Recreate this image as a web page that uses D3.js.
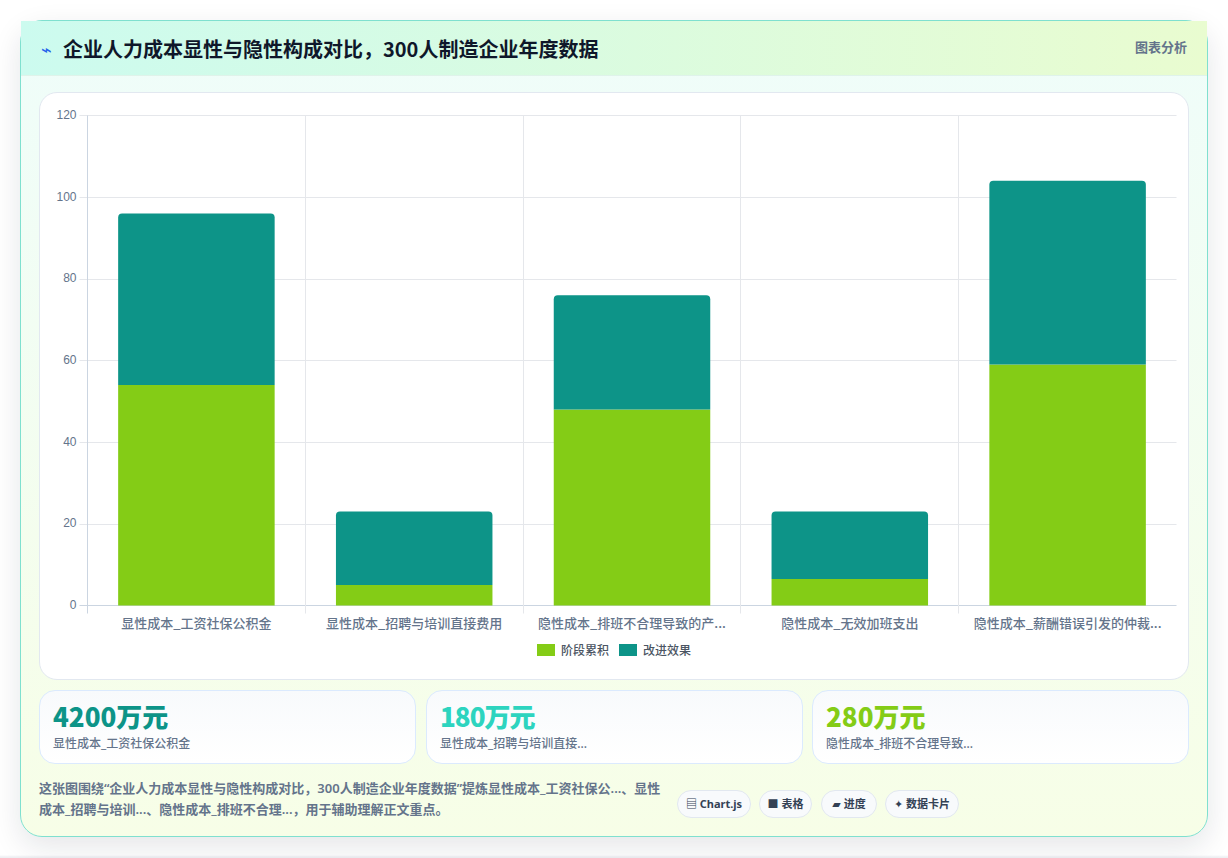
<!DOCTYPE html>
<html lang="zh">
<head>
<meta charset="utf-8">
<title>企业人力成本显性与隐性构成对比</title>
<script src="https://cdn.jsdelivr.net/npm/d3@7/dist/d3.min.js"></script>
<style>
*{box-sizing:border-box;margin:0;padding:0}
html,body{width:1228px;height:858px;overflow:hidden;background:#fff;font-family:"Noto Sans","Noto Sans CJK SC","DejaVu Sans",sans-serif}
body{background:linear-gradient(180deg,#fff 0,#fff 855px,#eef0f3 857px)}
.card{position:absolute;left:20px;top:20px;width:1188px;height:817px;border:1px solid #7fe0cf;border-radius:22px;
  background:linear-gradient(180deg,#effdfa 0%,#f7fee7 100%);box-shadow:0 10px 30px rgba(15,23,42,.11)}
.head{position:absolute;left:0;top:0;right:0;height:55px;background:linear-gradient(90deg,#ccfbef 0%,#e9fcd0 100%);border-bottom:1px solid #dff3ea}
.head .icon{position:absolute;left:20px;top:17px;font-size:18px;line-height:22px;color:#2563eb}
.head h1{position:absolute;left:42px;top:13px;font-size:20px;line-height:30px;font-weight:700;color:#0f172a;white-space:nowrap;font-family:"Noto Sans CJK SC",sans-serif}
.head .tag{position:absolute;right:20px;top:16px;font-size:13px;line-height:20px;font-weight:700;color:#64748b}
.panel{position:absolute;left:18px;top:71px;width:1150px;height:588px;background:#fff;border:1px solid #e2e8f0;border-radius:18px}
svg{position:absolute;left:0;top:0}
.stat{position:absolute;top:669px;height:74px;border:1px solid #dbeafe;border-radius:16px;background:linear-gradient(180deg,#f8fafc,#fff)}
.stat b{position:absolute;left:13px;top:8px;font-size:26px;line-height:34px;font-weight:800;white-space:nowrap;font-family:"Noto Sans CJK SC",sans-serif}
.stat span{position:absolute;left:13px;top:45px;font-size:12px;line-height:16px;font-weight:500;color:#64748b;white-space:nowrap}
.note{position:absolute;left:18px;top:757px;width:630px;font-size:13px;line-height:20.8px;font-weight:600;color:#64748b}
.chip{position:absolute;top:769px;height:28px;border:1px solid #e2e8f0;border-radius:14px;background:#f8fafc;font-size:11px;line-height:26px;font-weight:700;color:#334155;text-align:center;white-space:nowrap}
</style>
</head>
<body>
<div class="card" id="card">
  <div class="head">
    <span class="icon">⌁</span>
    <h1 id="title"></h1>
    <span class="tag">图表分析</span>
  </div>
  <div class="panel"></div>
  <svg id="chart" width="1186" height="660"></svg>
</div>
<script>
const chartTitle = "企业人力成本显性与隐性构成对比，300人制造企业年度数据";
const categories = ["显性成本_工资社保公积金","显性成本_招聘与培训直接费用","隐性成本_排班不合理导致的产...","隐性成本_无效加班支出","隐性成本_薪酬错误引发的仲裁..."];
const seriesNames = ["阶段累积","改进效果"];
const stageValues = [54,5,48,6.5,59];
const effectValues = [42,18,28,16.5,45];
const yTicks = [0,20,40,60,80,100,120];
const statValues = ["4200万元","180万元","280万元"];
const statLabels = ["显性成本_工资社保公积金","显性成本_招聘与培训直接...","隐性成本_排班不合理导致..."];
const statColors = ["#0d9488","#2dd4bf","#84cc16"];
const noteText = "这张图围绕“企业人力成本显性与隐性构成对比，300人制造企业年度数据”提炼显性成本_工资社保公...、显性成本_招聘与培训...、隐性成本_排班不合理...，用于辅助理解正文重点。";
const chipLabels = ["▤ Chart.js","■ 表格","▰ 进度","✦ 数据卡片"];
const seriesColors = ["#84cc16","#0d9488"];

const card = d3.select("#card");
d3.select("#title").text(chartTitle);

// Plot frame, in the card's inner coordinates.
const plot = {left:66.5, right:1155.5, top:94.5, bottom:584.5};
const svg = d3.select("#chart");
const x = d3.scaleBand().domain(categories).range([plot.left, plot.right]);
const y = d3.scaleLinear().domain([0,120]).range([plot.bottom, plot.top]);
const barWidth = 156.5;
const gridColor = "#e5e7eb", axisColor = "#cbd5e1", tickText = "#64748b";
const crisp = v => Math.round(v-.01)+.5;

// Gridlines and tick marks, extended past the plot as short ticks
const grid = svg.append("g");
grid.selectAll("line.h").data(yTicks).join("line").attr("class","h")
  .attr("x1",plot.left-8).attr("x2",plot.right)
  .attr("y1",d=>crisp(y(d))).attr("y2",d=>crisp(y(d)))
  .attr("stroke",d=>d===0?axisColor:gridColor);
const splits = d3.range(categories.length).map(i=>plot.left+i*x.bandwidth());
grid.selectAll("line.v").data(splits).join("line").attr("class","v")
  .attr("x1",d=>Math.floor(d)+.5).attr("x2",d=>Math.floor(d)+.5)
  .attr("y1",plot.top).attr("y2",plot.bottom+8)
  .attr("stroke",(d,i)=>i===0?axisColor:gridColor);

// Value axis labels
const yAxis = d3.axisLeft(y).tickValues(yTicks).tickSize(0).tickPadding(11);
const gy = svg.append("g").attr("transform",`translate(${plot.left},-1)`).call(yAxis);
gy.select(".domain").remove();
gy.selectAll("text").attr("fill",tickText).attr("font-size",12).attr("font-weight",500)
  .attr("font-family","'Liberation Sans',sans-serif");

// Category labels
const xAxis = d3.axisBottom(x).tickSize(0).tickPadding(13);
const gx = svg.append("g").attr("transform",`translate(0,${plot.bottom})`).call(xAxis);
gx.select(".domain").remove();
gx.selectAll("text").attr("fill",tickText).attr("font-size",13).attr("font-weight",500)
  .attr("font-family","'Noto Sans CJK SC',sans-serif");

// Stacked bars: the upper segment carries the rounded top corners
const stack = d3.stack().keys([0,1]).value((d,k)=>d[k])(categories.map((c,i)=>[stageValues[i],effectValues[i]]));
const barPath = (cx,y0,y1,r)=>{
  const p = d3.path(), l = cx-barWidth/2, w = barWidth;
  p.moveTo(l,y0); p.lineTo(l,y1+r);
  p.arcTo(l,y1,l+r,y1,r); p.lineTo(l+w-r,y1);
  p.arcTo(l+w,y1,l+w,y1+r,r); p.lineTo(l+w,y0); p.closePath();
  return p.toString();
};
svg.append("g").selectAll("g").data(stack).join("g").attr("fill",(d,i)=>seriesColors[i])
  .selectAll("path").data((d,k)=>d.map((v,i)=>({v,i,k}))).join("path")
  .attr("d",d=>barPath(x(categories[d.i])+x.bandwidth()/2,y(d.v[0]),y(d.v[1]),d.k===1?4:0));

// Legend, centred under the plot
const legendItems = [{n:seriesNames[0],c:seriesColors[0],x:516},{n:seriesNames[1],c:seriesColors[1],x:598}];
const lg = svg.append("g").selectAll("g").data(legendItems).join("g").attr("transform",d=>`translate(${d.x},623)`);
lg.append("rect").attr("width",18).attr("height",12).attr("fill",d=>d.c);
lg.append("text").attr("x",24).attr("y",10.5).attr("font-size",12).attr("font-weight",500).attr("fill","#4b5563")
  .attr("font-family","'Noto Sans CJK SC',sans-serif").text(d=>d.n);

// Summary cards; the narrow figure in the middle card is set slightly tighter
const statLeft = [18,405,791], statWidth = [377,377,377], statTracking = [0,-1,0];
card.selectAll(".stat").data(statValues).join("div").attr("class","stat")
  .style("left",(d,i)=>statLeft[i]+"px").style("width",(d,i)=>statWidth[i]+"px")
  .each(function(d,i){
    d3.select(this).append("b").style("color",statColors[i]).style("letter-spacing",statTracking[i]+"px").text(d);
    d3.select(this).append("span").text(statLabels[i]);
  });

// Footer note and feature chips
card.append("div").attr("class","note").text(noteText);
const chipLeft = [656,738,800,864], chipWidth = [74,53,56,74];
card.selectAll(".chip").data(chipLabels).join("div").attr("class","chip")
  .style("left",(d,i)=>chipLeft[i]+"px").style("width",(d,i)=>chipWidth[i]+"px").text(d=>d);
</script>
</body>
</html>
